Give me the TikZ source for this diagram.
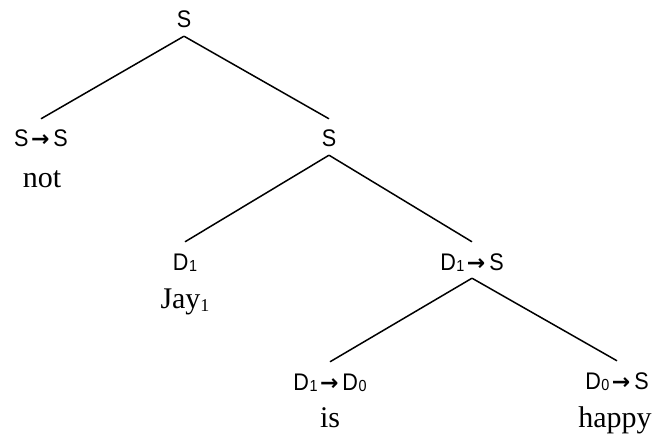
\documentclass[tikz,border=0pt]{standalone}
\usepackage{fontspec}
\setmainfont{Liberation Serif}
\newfontfamily\catfont[FakeStretch=0.9]{Liberation Sans}
\newfontfamily\arrfont{DejaVu Sans}
\newcommand{\arr}{\hspace{2.5pt}{\arrfont\bfseries\fontsize{22}{22}\selectfont →}\hspace{4pt}}
\newcommand{\sbs}[1]{\hspace{0.5pt}\raisebox{-1.5pt}{\fontsize{16}{16}\selectfont #1}}
\newcommand{\wsb}[1]{\raisebox{-3pt}{\fontsize{18}{18}\selectfont #1}}
\begin{document}
\begin{tikzpicture}[x=1pt,y=-1pt,
  cat/.style={font=\catfont\fontsize{24}{24}\selectfont, inner sep=0pt, text height=16pt, text depth=0pt, anchor=base},
  word/.style={font=\fontsize{30}{30}\selectfont, inner sep=0pt, anchor=base},
  edge/.style={line width=1.5pt}]
\useasboundingbox (0,0) rectangle (655,438);
\node[cat] (s0) at (184,28) {S};
\node[cat] (s1) at (41,147) {S\arr S};
\node[word] (w1) at (42,188) {not};
\node[cat] (s2) at (329,147) {S};
\node[cat] (d1) at (185,270) {D\sbs{1}};
\node[word] (w2) at (185,308) {Jay\wsb{1}};
\node[cat] (s3) at (472,270) {D\sbs{1}\arr S};
\node[cat] (d2) at (330,390) {D\sbs{1}\arr D\sbs{0}};
\node[word] (w3) at (330,427) {is};
\node[cat] (d3) at (617,389) {D\sbs{0}\arr S};
\node[word] (w4) at (615,427) {happy};
\foreach \p/\c in {s0/s1, s0/s2, s2/d1, s2/s3, s3/d2, s3/d3}
  \draw[edge] ([yshift=-8pt]\p.south) -- ([yshift=12pt]\c.north);
\end{tikzpicture}
\end{document}
